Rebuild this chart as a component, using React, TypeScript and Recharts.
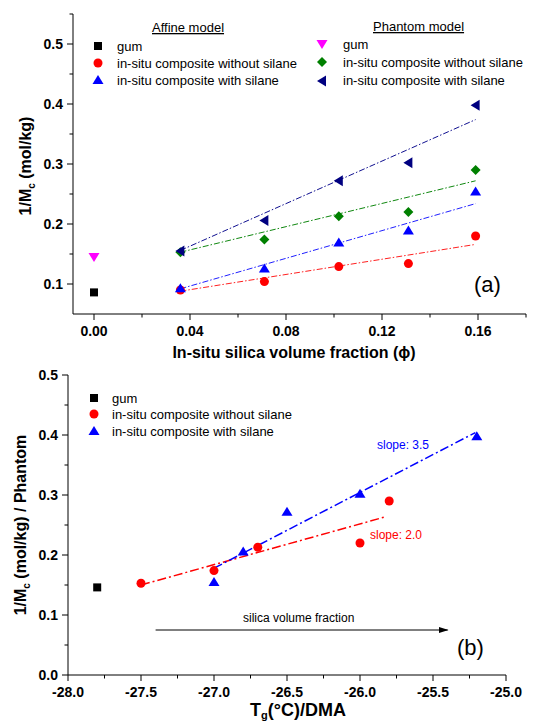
import { ComposedChart, ReferenceLine, Scatter, XAxis, YAxis } from "recharts";

const FONT = "'Liberation Sans', Arial, Helvetica, sans-serif";

// ---- panel (a): 1/Mc vs in-situ silica volume fraction
const phi = [0.036, 0.071, 0.102, 0.131, 0.159];
const affineGum = 0.086;
const phantomGum = 0.145;
const affineNoSilane = [0.09, 0.104, 0.129, 0.134, 0.18];
const affineSilane = [0.093, 0.126, 0.169, 0.189, 0.254];
const phantomNoSilane = [0.153, 0.174, 0.213, 0.22, 0.29];
const phantomSilane = [0.155, 0.206, 0.272, 0.302, 0.398];

const fitPhi = [0.036, 0.159];
const fitAffineNoSilane = [0.088, 0.166];
const fitAffineSilane = [0.092, 0.234];
const fitPhantomNoSilane = [0.153, 0.272];
const fitPhantomSilane = [0.156, 0.374];

const phiTicks = [0, 0.02, 0.04, 0.06, 0.08, 0.1, 0.12, 0.14, 0.16, 0.18];
const phiMajor = [0, 0.04, 0.08, 0.12, 0.16];
const mcTicks = [0.1, 0.15, 0.2, 0.25, 0.3, 0.35, 0.4, 0.45, 0.5, 0.55];
const mcMajor = [0.1, 0.2, 0.3, 0.4, 0.5];

// ---- panel (b): phantom 1/Mc vs Tg
const tgGum = -27.8;
const tgNoSilane = [-27.5, -27.0, -26.7, -26.0, -25.8];
const tgSilane = [-27.0, -26.8, -26.5, -26.0, -25.2];
const gumPhantomB = 0.146;
const fitTgNoSilane = [-27.5, -25.82];
const fitNoSilaneB = [0.15, 0.264];
const fitTgSilane = [-27.0, -25.21];
const fitSilaneB = [0.178, 0.404];
const arrowTg = [-27.4, -25.4];
const arrowLevel = 0.075;

const tgTicks = [-28, -27.75, -27.5, -27.25, -27, -26.75, -26.5, -26.25, -26, -25.75, -25.5, -25.25, -25];
const tgMajor = [-28, -27.5, -27, -26.5, -26, -25.5, -25];
const bTicks = [0, 0.05, 0.1, 0.15, 0.2, 0.25, 0.3, 0.35, 0.4, 0.45, 0.5];
const bMajor = [0, 0.1, 0.2, 0.3, 0.4, 0.5];

const pts = (xs: number[], ys: number[]) => xs.map((x, i) => ({ x, y: ys[i] }));

// marker shapes
const Square = ({ cx, cy, fill }: any) => (
  <rect x={cx - 4} y={cy - 4} width={8} height={8} fill={fill} />
);
const Dot = ({ cx, cy, fill }: any) => <circle cx={cx} cy={cy} r={4.5} fill={fill} />;
const TriUp = ({ cx, cy, fill }: any) => (
  <polygon points={`${cx},${cy - 5} ${cx + 5.5},${cy + 4} ${cx - 5.5},${cy + 4}`} fill={fill} />
);
const TriDown = ({ cx, cy, fill }: any) => (
  <polygon points={`${cx},${cy + 5} ${cx + 5.5},${cy - 4} ${cx - 5.5},${cy - 4}`} fill={fill} />
);
const TriLeft = ({ cx, cy, fill }: any) => (
  <polygon points={`${cx - 5},${cy} ${cx + 4},${cy - 5.5} ${cx + 4},${cy + 5.5}`} fill={fill} />
);
const Diamond = ({ cx, cy, fill }: any) => (
  <polygon points={`${cx},${cy - 5} ${cx + 5},${cy} ${cx},${cy + 5} ${cx - 5},${cy}`} fill={fill} />
);
const None = () => <g />;

const isMajor = (v: number, majors: number[]) => majors.some((m) => Math.abs(m - v) < 1e-9);

const xTick = (majors: number[], digits: number) => (props: any) => {
  const { x, y, payload } = props;
  const major = isMajor(payload.value, majors);
  return (
    <g>
      <line x1={x} x2={x} y1={y} y2={y + (major ? 6 : 3.5)} stroke="#000" />
      {major && (
        <text x={x} y={y + 22} textAnchor="middle" fontSize={14} fontWeight="bold" fontFamily={FONT} fill="#000">
          {payload.value.toFixed(digits)}
        </text>
      )}
    </g>
  );
};

const yTick = (majors: number[]) => (props: any) => {
  const { x, y, payload } = props;
  const major = isMajor(payload.value, majors);
  return (
    <g>
      <line x1={x} x2={x - (major ? 6 : 3.5)} y1={y} y2={y} stroke="#000" />
      {major && (
        <text x={x - 10} y={y + 5} textAnchor="end" fontSize={14} fontWeight="bold" fontFamily={FONT} fill="#000">
          {payload.value.toFixed(1)}
        </text>
      )}
    </g>
  );
};

const fitLine = (stroke: string, width: number, dash: string) => ({
  stroke,
  strokeWidth: width,
  strokeDasharray: dash,
});

function PanelA() {
  return (
    <ComposedChart width={545} height={362} margin={{ top: 14, right: 19, left: 0, bottom: 0 }}>
      <XAxis
        dataKey="x"
        type="number"
        domain={[-0.00875, 0.18]}
        ticks={phiTicks}
        interval={0}
        tick={xTick(phiMajor, 2)}
        tickLine={false}
        tickSize={0}
        tickMargin={0}
        height={48}
        axisLine={{ stroke: "#000" }}
        allowDataOverflow
      />
      <XAxis xAxisId="top" orientation="top" type="number" domain={[0, 1]} height={0} tick={false} tickLine={false} axisLine={{ stroke: "#000" }} />
      <YAxis
        dataKey="y"
        type="number"
        domain={[0.05, 0.55]}
        ticks={mcTicks}
        interval={0}
        tick={yTick(mcMajor)}
        tickLine={false}
        tickSize={0}
        tickMargin={0}
        width={73}
        axisLine={{ stroke: "#000" }}
        allowDataOverflow
      />
      <YAxis yAxisId="right" orientation="right" type="number" domain={[0, 1]} width={0} tick={false} tickLine={false} axisLine={{ stroke: "#000" }} />

      <Scatter data={pts(fitPhi, fitAffineNoSilane)} fill="#ff2020" shape={None} line={fitLine("#ff2020", 1, "6 2 1.5 2")} isAnimationActive={false} />
      <Scatter data={pts(fitPhi, fitAffineSilane)} fill="#2020ff" shape={None} line={fitLine("#2020ff", 1, "6 2 1.5 2")} isAnimationActive={false} />
      <Scatter data={pts(fitPhi, fitPhantomNoSilane)} fill="#108810" shape={None} line={fitLine("#108810", 1, "6 2 1.5 2")} isAnimationActive={false} />
      <Scatter data={pts(fitPhi, fitPhantomSilane)} fill="#101090" shape={None} line={fitLine("#101090", 1, "6 2 1.5 2")} isAnimationActive={false} />

      <Scatter data={[{ x: 0, y: affineGum }]} fill="#000000" shape={Square} isAnimationActive={false} />
      <Scatter data={[{ x: 0, y: phantomGum }]} fill="#ff00ff" shape={TriDown} isAnimationActive={false} />
      <Scatter data={pts(phi, affineNoSilane)} fill="#ff0000" shape={Dot} isAnimationActive={false} />
      <Scatter data={pts(phi, affineSilane)} fill="#0000ff" shape={TriUp} isAnimationActive={false} />
      <Scatter data={pts(phi, phantomNoSilane)} fill="#008000" shape={Diamond} isAnimationActive={false} />
      <Scatter data={pts(phi, phantomSilane)} fill="#000080" shape={TriLeft} isAnimationActive={false} />
    </ComposedChart>
  );
}

function PanelB() {
  return (
    <ComposedChart width={545} height={361} margin={{ top: 13, right: 39, left: 0, bottom: 0 }}>
      <defs>
        <marker id="arrowHead" markerWidth="10" markerHeight="8" refX="9" refY="4" orient="auto" markerUnits="userSpaceOnUse">
          <path d="M0,1 L10,4 L0,7 Z" fill="#000" />
        </marker>
      </defs>
      <XAxis
        dataKey="x"
        type="number"
        domain={[-28, -25]}
        ticks={tgTicks}
        interval={0}
        tick={xTick(tgMajor, 1)}
        tickLine={false}
        tickSize={0}
        tickMargin={0}
        height={48}
        axisLine={{ stroke: "#000" }}
        allowDataOverflow
      />
      <XAxis xAxisId="top" orientation="top" type="number" domain={[0, 1]} height={0} tick={false} tickLine={false} axisLine={{ stroke: "#000" }} />
      <YAxis
        dataKey="y"
        type="number"
        domain={[0, 0.5]}
        ticks={bTicks}
        interval={0}
        tick={yTick(bMajor)}
        tickLine={false}
        tickSize={0}
        tickMargin={0}
        width={68}
        axisLine={{ stroke: "#000" }}
        allowDataOverflow
      />
      <YAxis yAxisId="right" orientation="right" type="number" domain={[0, 1]} width={0} tick={false} tickLine={false} axisLine={{ stroke: "#000" }} />

      <ReferenceLine
        segment={[
          { x: arrowTg[0], y: arrowLevel },
          { x: arrowTg[1], y: arrowLevel },
        ]}
        stroke="#000"
        strokeWidth={1}
        markerEnd="url(#arrowHead)"
      />

      <Scatter data={pts(fitTgNoSilane, fitNoSilaneB)} fill="#ff0000" shape={None} line={fitLine("#ff0000", 1.5, "9 3 2 3")} isAnimationActive={false} />
      <Scatter data={pts(fitTgSilane, fitSilaneB)} fill="#0000ff" shape={None} line={fitLine("#0000ff", 1.5, "9 3 2 3")} isAnimationActive={false} />

      <Scatter data={[{ x: tgGum, y: gumPhantomB }]} fill="#000000" shape={Square} isAnimationActive={false} />
      <Scatter data={pts(tgNoSilane, phantomNoSilane)} fill="#ff0000" shape={Dot} isAnimationActive={false} />
      <Scatter data={pts(tgSilane, phantomSilane)} fill="#0000ff" shape={TriUp} isAnimationActive={false} />
    </ComposedChart>
  );
}

const txt = { fontFamily: FONT, fill: "#000" };

export default function App() {
  return (
    <div style={{ position: "absolute", left: 0, top: 0, width: 545, height: 723, background: "#fff" }}>
      <div style={{ position: "absolute", left: 0, top: 0 }}>
        <PanelA />
      </div>
      <div style={{ position: "absolute", left: 0, top: 362 }}>
        <PanelB />
      </div>
      <svg width={545} height={723} style={{ position: "absolute", left: 0, top: 0, pointerEvents: "none" }}>
        {/* panel (a) legend */}
        <text x={152} y={32} fontSize={13} textDecoration="underline" {...txt}>Affine model</text>
        <Square cx={98} cy={46} fill="#000" />
        <text x={117} y={50.5} fontSize={13} {...txt}>gum</text>
        <Dot cx={98} cy={63} fill="#ff0000" />
        <text x={117} y={67.5} fontSize={13} {...txt}>in-situ composite without silane</text>
        <TriUp cx={98} cy={80} fill="#0000ff" />
        <text x={117} y={84.5} fontSize={13} {...txt}>in-situ composite with silane</text>

        <text x={373} y={31} fontSize={13} textDecoration="underline" {...txt}>Phantom model</text>
        <TriDown cx={322} cy={44} fill="#ff00ff" />
        <text x={343} y={49} fontSize={13} {...txt}>gum</text>
        <Diamond cx={322} cy={62} fill="#008000" />
        <text x={343} y={67} fontSize={13} {...txt}>in-situ composite without silane</text>
        <TriLeft cx={322} cy={81} fill="#000080" />
        <text x={343} y={85} fontSize={13} {...txt}>in-situ composite with silane</text>

        <text x={474} y={292} fontSize={22} {...txt}>(a)</text>

        {/* panel (a) axis titles */}
        <text x={294} y={358} textAnchor="middle" fontSize={16} fontWeight="bold" {...txt}>
          In-situ silica volume fraction (ϕ)
        </text>
        <text transform="translate(31,166) rotate(-90)" textAnchor="middle" fontSize={16} fontWeight="bold" {...txt}>
          1/M<tspan fontSize={10} dy={4}>c</tspan>
          <tspan dy={-4}> (mol/kg)</tspan>
        </text>

        {/* panel (b) legend */}
        <Square cx={94} cy={398} fill="#000" />
        <text x={112} y={402.5} fontSize={13} {...txt}>gum</text>
        <Dot cx={94} cy={414} fill="#ff0000" />
        <text x={112} y={418.5} fontSize={13} {...txt}>in-situ composite without silane</text>
        <TriUp cx={94} cy={431} fill="#0000ff" />
        <text x={112} y={435.5} fontSize={13} {...txt}>in-situ composite with silane</text>

        <text x={377} y={449} fontSize={12} fontFamily={FONT} fill="#0000ff">slope: 3.5</text>
        <text x={370} y={539} fontSize={12} fontFamily={FONT} fill="#ff0000">slope: 2.0</text>
        <text x={243} y={622} fontSize={12} {...txt}>silica volume fraction</text>
        <text x={457} y={655} fontSize={22} {...txt}>(b)</text>

        {/* panel (b) axis titles */}
        <text x={298} y={716} textAnchor="middle" fontSize={18} fontWeight="bold" {...txt}>
          T<tspan fontSize={11} dy={3}>g</tspan>
          <tspan dy={-3}>(°C)/DMA</tspan>
        </text>
        <text transform="translate(26,525) rotate(-90)" textAnchor="middle" fontSize={16} fontWeight="bold" {...txt}>
          1/M<tspan fontSize={10} dy={4}>c</tspan>
          <tspan dy={-4}> (mol/kg) / Phantom</tspan>
        </text>
      </svg>
    </div>
  );
}
